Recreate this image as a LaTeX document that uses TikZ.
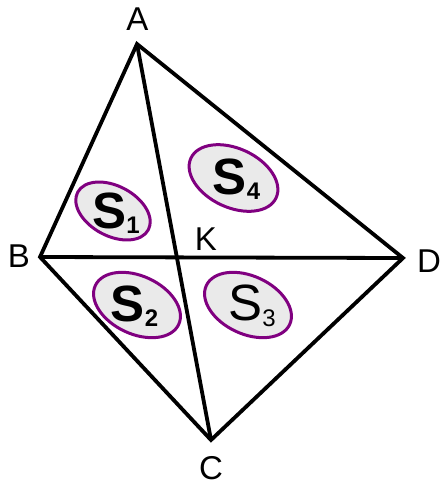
\documentclass[tikz,border=0pt]{standalone}
\usepackage{fontspec}
\setmainfont{Liberation Sans}
\definecolor{ringpurple}{RGB}{128,0,128}
\definecolor{ringfill}{RGB}{234,234,234}
\tikzset{
  edge/.style={line width=3.8pt, line join=miter, line cap=round},
  vlabel/.style={inner sep=0pt, font=\fontsize{33}{33}\selectfont},
  ring/.style={line width=3pt, draw=ringpurple, fill=ringfill},
  slab/.style={inner sep=0pt}
}
\newcommand{\SLabB}[1]{{\fontsize{51}{51}\selectfont\bfseries S}\raisebox{-5.5pt}{\fontsize{24}{24}\selectfont\bfseries #1}}
\newcommand{\SLabR}[1]{{\fontsize{51}{51}\selectfont S}\raisebox{-5.5pt}{\fontsize{24}{24}\selectfont #1}}
\begin{document}
\begin{tikzpicture}[x=1pt,y=-1pt]
\useasboundingbox[fill=white] (0,0) rectangle (441,488);
% vertices
\coordinate (A) at (137,44);
\coordinate (B) at (40,257);
\coordinate (C) at (211,440);
\coordinate (D) at (403,258);
% ellipses
\filldraw[ring, rotate around={-28:(113,211)}] (113,211) ellipse [x radius=40pt, y radius=25pt];
\filldraw[ring, rotate around={-25:(233.5,178)}] (233.5,178) ellipse [x radius=47pt, y radius=29.5pt];
\filldraw[ring, rotate around={-25:(137,305)}] (137,305) ellipse [x radius=46pt, y radius=29pt];
\filldraw[ring, rotate around={-25:(248,305)}] (248,305) ellipse [x radius=46pt, y radius=29pt];
% edges
\draw[edge] (A) -- (B) -- (C) -- (D) -- cycle;
\draw[edge] (A) -- (C);
\draw[edge] (B) -- (D);
% labels
\node[vlabel] (lA) at (137.5,19) {A};
\node[vlabel] (lB) at (19,256) {B};
\node[vlabel] (lC) at (211,468) {C};
\node[vlabel] (lD) at (429,261) {D};
\node[vlabel] (lK) at (206,239) {K};
\node[slab] (s1) at (116,213) {\SLabB{1}};
\node[slab] (s4) at (236.5,179) {\SLabB{4}};
\node[slab] (s2) at (134.5,306) {\SLabB{2}};
\node[slab] (s3) at (252,306) {\SLabR{3}};
\end{tikzpicture}
\end{document}
